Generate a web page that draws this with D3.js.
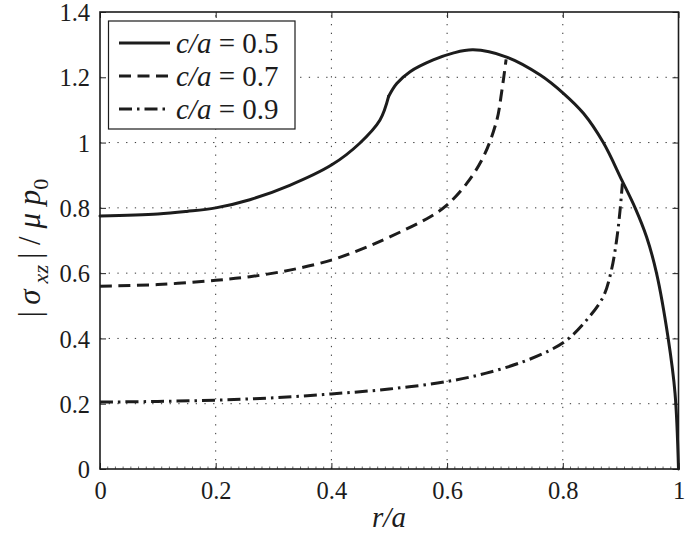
<!DOCTYPE html>
<html><head><meta charset="utf-8">
<script src="https://cdn.jsdelivr.net/npm/d3@7"></script>
<style>
body{margin:0;background:#fff;}
svg{display:block;}
</style></head><body>
<svg id="c" width="685" height="539"></svg>
<script>
// Data
const xTicks = [0, 0.2, 0.4, 0.6, 0.8, 1];
const xTickLabels = ["0", "0.2", "0.4", "0.6", "0.8", "1"];
const yTicks = [0, 0.2, 0.4, 0.6, 0.8, 1, 1.2, 1.4];
const yTickLabels = ["0", "0.2", "0.4", "0.6", "0.8", "1", "1.2", "1.4"];
const seriesNames = ["0.5", "0.7", "0.9"];

// c/a = 0.5 (two pieces, joined at the kink r = c)
const r05a = [0, 0.1, 0.15, 0.2, 0.259, 0.328, 0.4, 0.449, 0.484, 0.499];
const v05a = [0.775, 0.781, 0.789, 0.80, 0.825, 0.869, 0.931, 0.998, 1.069, 1.142];
const r05b = [0.499, 0.513, 0.536, 0.576, 0.61, 0.645, 0.703, 0.761, 0.801, 0.836, 0.87, 0.902, 0.925, 0.945, 0.962, 0.982, 0.994, 1.0];
const v05b = [1.142, 1.181, 1.217, 1.253, 1.274, 1.284, 1.262, 1.207, 1.151, 1.089, 1.0, 0.885, 0.8, 0.71, 0.6, 0.402, 0.232, 0.0];

// c/a = 0.7
const r07 = [0, 0.1, 0.2, 0.259, 0.33, 0.4, 0.45, 0.501, 0.571, 0.6, 0.634, 0.663, 0.686, 0.694, 0.702];
const v07 = [0.56, 0.565, 0.578, 0.589, 0.61, 0.64, 0.672, 0.711, 0.773, 0.809, 0.875, 0.957, 1.069, 1.151, 1.255];

// c/a = 0.9
const r09 = [0, 0.1, 0.2, 0.3, 0.4, 0.5, 0.6, 0.666, 0.732, 0.778, 0.807, 0.841, 0.87, 0.884, 0.893, 0.899, 0.903];
const v09 = [0.205, 0.207, 0.211, 0.218, 0.23, 0.245, 0.268, 0.293, 0.329, 0.364, 0.395, 0.456, 0.528, 0.609, 0.701, 0.793, 0.875];

const svg = d3.select("#c");
const L = 100, R = 678.5, T = 12, B = 469;
const x = d3.scaleLinear().domain([0, 1]).range([L, R]);
const y = d3.scaleLinear().domain([0, 1.4]).range([B, T]);
const FONT = "Liberation Serif";
const INK = "#1c1c1c";

// grid
const g = svg.append("g");
g.selectAll(".gx").data(xTicks.slice(1, -1)).enter().append("line")
  .attr("x1", d => x(d)).attr("x2", d => x(d)).attr("y1", B).attr("y2", T)
  .attr("stroke", "#333").attr("stroke-width", 1).attr("stroke-dasharray", "1.3,7.4");
g.selectAll(".gy").data(yTicks.slice(1, -1)).enter().append("line")
  .attr("y1", d => y(d)).attr("y2", d => y(d)).attr("x1", L).attr("x2", R)
  .attr("stroke", "#333").attr("stroke-width", 1).attr("stroke-dasharray", "1.3,7.4");

// axes with inward ticks
const ax = svg.append("g").attr("transform", `translate(0,${B})`)
  .call(d3.axisBottom(x).tickValues(xTicks).tickFormat((d, i) => xTickLabels[i]).tickSizeInner(-6).tickSizeOuter(0).tickPadding(12));
const ay = svg.append("g").attr("transform", `translate(${L},0)`)
  .call(d3.axisLeft(y).tickValues(yTicks).tickFormat((d, i) => yTickLabels[i]).tickSizeInner(-6).tickSizeOuter(0).tickPadding(10));
const axT = svg.append("g").attr("transform", `translate(0,${T})`)
  .call(d3.axisTop(x).tickValues(xTicks).tickFormat("").tickSizeInner(-6).tickSizeOuter(0));
const ayR = svg.append("g").attr("transform", `translate(${R},0)`)
  .call(d3.axisRight(y).tickValues(yTicks).tickFormat("").tickSizeInner(-6).tickSizeOuter(0));
[ax, ay, axT, ayR].forEach(a => {
  a.attr("font-family", FONT).attr("font-size", 24.5);
  a.select(".domain").remove();
  a.selectAll("line").attr("stroke", "#222").attr("stroke-width", 1);
  a.selectAll("text").attr("fill", INK);
});
ay.selectAll("text").attr("dy", "0.35em");
ax.selectAll("text").attr("dy", "0.72em");

// minor ticks on bottom axis
const minor = d3.range(0, 76).map(i => i / 75);
svg.append("g").selectAll("line").data(minor).enter().append("line")
  .attr("x1", d => x(d)).attr("x2", d => x(d)).attr("y1", B).attr("y2", B - 2.5)
  .attr("stroke", "#444").attr("stroke-width", 0.8);

// box
svg.append("rect").attr("x", L).attr("y", T).attr("width", R - L).attr("height", B - T)
  .attr("fill", "none").attr("stroke", INK).attr("stroke-width", 1.6);

// curves
const mk = (rs, vs) => rs.map((r, i) => [r, vs[i]]);
const lineGen = d3.line().x(d => x(d[0])).y(d => y(d[1])).curve(d3.curveCatmullRom.alpha(0.5));
const styles = [
  {dash: null},
  {dash: "12,6.5"},
  {dash: "13,5,2.5,5"}
];
[mk(r05a, v05a), mk(r05b, v05b)].forEach(pts => {
  svg.append("path").datum(pts).attr("d", lineGen)
    .attr("fill", "none").attr("stroke", INK).attr("stroke-width", 3).attr("stroke-linecap", "round");
});
[mk(r07, v07), mk(r09, v09)].forEach((pts, i) => {
  svg.append("path").datum(pts).attr("d", lineGen)
    .attr("fill", "none").attr("stroke", INK).attr("stroke-width", 3)
    .attr("stroke-dasharray", styles[i + 1].dash);
});

// legend
const lg = svg.append("g");
lg.append("rect").attr("x", 108.5).attr("y", 21).attr("width", 186.5).attr("height", 108)
  .attr("fill", "#fff").attr("stroke", INK).attr("stroke-width", 1.2);
const rowsY = [43, 76, 109];
seriesNames.forEach((nm, i) => {
  lg.append("line").attr("x1", 119).attr("x2", 170).attr("y1", rowsY[i]).attr("y2", rowsY[i])
    .attr("stroke", INK).attr("stroke-width", 3).attr("stroke-dasharray", styles[i].dash);
  const t = lg.append("text").attr("x", 176).attr("y", rowsY[i] + 10)
    .attr("font-size", 29).attr("font-family", FONT).attr("fill", INK);
  t.append("tspan").attr("font-style", "italic").text("c/a");
  t.append("tspan").text(" = " + nm);
});

// x label
svg.append("text").attr("x", 389).attr("y", 527).attr("text-anchor", "middle")
  .attr("font-size", 29).attr("font-style", "italic").attr("font-family", FONT).attr("fill", INK).text("r/a");

// y label
const yl = svg.append("text").attr("transform", "translate(40,248) rotate(-90)").attr("text-anchor", "middle")
  .attr("font-size", 31).attr("font-family", FONT).attr("fill", INK);
yl.append("tspan").text("|");
yl.append("tspan").attr("font-style", "italic").text("\u2009σ\u2009");
yl.append("tspan").attr("font-style", "italic").attr("font-size", 22).attr("dy", 8).text("xz");
yl.append("tspan").attr("dy", -8).text("\u2009| / ");
yl.append("tspan").attr("font-style", "italic").text("μ p");
yl.append("tspan").attr("font-size", 22).attr("dy", 8).text("0");
</script></body></html>
